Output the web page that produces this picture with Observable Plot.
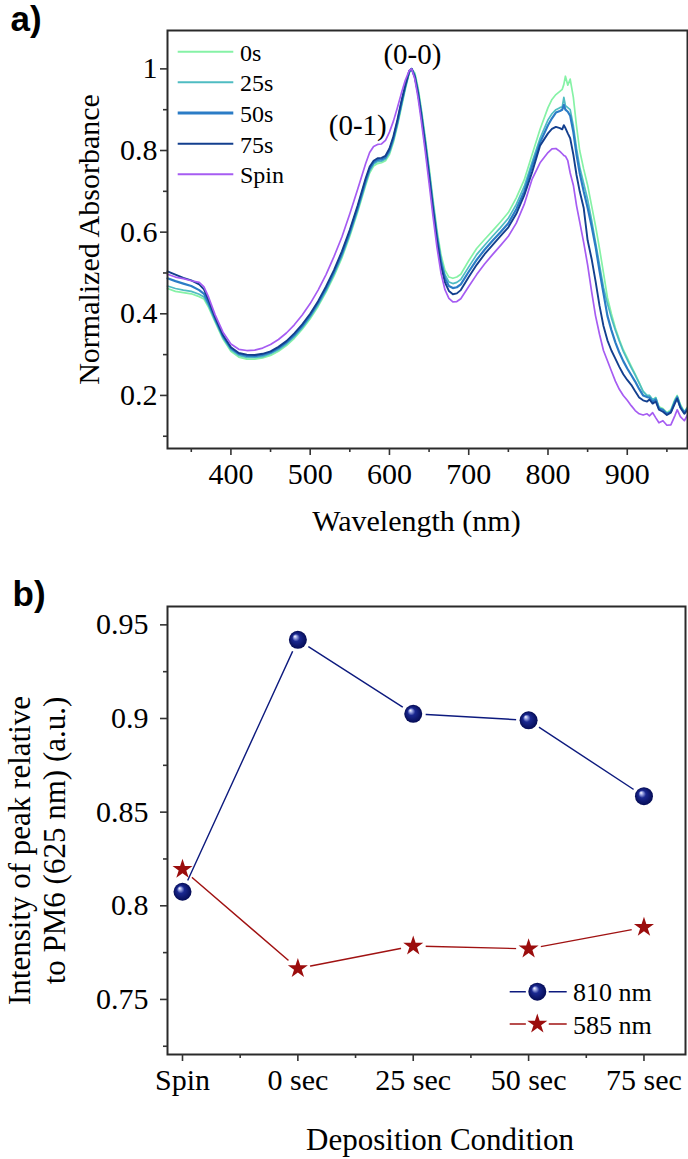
<!DOCTYPE html>
<html><head><meta charset="utf-8">
<script src="https://cdn.jsdelivr.net/npm/d3@7"></script>
<script src="https://cdn.jsdelivr.net/npm/@observablehq/plot@0.6"></script>
<style>
body{margin:0;background:#fff;}
#fig{position:relative;width:688px;height:1159px;background:#fff;overflow:hidden}
#fig svg{display:block}
#legend{position:absolute;left:0;top:0;pointer-events:none;font-family:'Liberation Serif','Times New Roman',serif}
</style></head><body>
<svg width="0" height="0" style="position:absolute"><defs>
<radialGradient id="sphereGrad" cx="0.5" cy="0.5" r="0.5" fx="0.33" fy="0.3">
<stop offset="0" stop-color="#ffffff"/>
<stop offset="0.16" stop-color="#a4aee8"/>
<stop offset="0.42" stop-color="#1a2890"/>
<stop offset="1" stop-color="#050c55"/>
</radialGradient></defs></svg>
<div id="fig"><div id="a"></div><div id="b"></div><svg id="legend" width="688" height="1159"></svg></div>
<script>
// ---------- data: panel a) ----------
const wavelength = [320,330,340,350,360,366,372,380,390,400,
 410,420,430,440,450,460,470,480,490,500,
 510,520,530,540,550,560,570,575,580,585,
 590,595,600,605,610,615,620,625,628,632,
 636,640,645,650,655,660,665,670,675,680,
 685,690,700,710,720,730,740,750,760,770,
 780,790,800,805,810,815,818,820,822,825,
 828,832,836,840,845,850,855,860,865,870,
 875,880,885,890,895,900,905,910,915,920,
 925,928,932,936,940,945,950,955,960,963,
 967,972,976];
const abs0s = [.462,.455,.452,.449,.442,.436,.415,.38,.338,.308,
 .294,.289,.289,.292,.298,.308,.322,.340,.362,.388,
 .418,.453,.492,.537,.59,.65,.715,.745,.762,.768,
 .77,.775,.79,.82,.86,.905,.95,.99,1.0,.99,
 .955,.905,.835,.76,.68,.605,.545,.507,.49,.487,
 .49,.497,.53,.56,.582,.603,.625,.648,.684,.728,
 .79,.852,.905,.925,.937,.945,.95,.962,.982,.96,
 .975,.93,.86,.80,.755,.715,.665,.615,.56,.50,
 .44,.40,.365,.337,.312,.292,.272,.252,.232,.21,
 .198,.2,.188,.195,.172,.168,.158,.165,.19,.2,
 .178,.16,.172];
const abs25s = [.468,.462,.458,.455,.448,.441,.42,.384,.342,.312,
 .298,.293,.293,.295,.302,.312,.326,.344,.366,.392,
 .422,.457,.497,.542,.595,.655,.72,.75,.767,.773,
 .774,.779,.795,.825,.865,.91,.955,.992,1.0,.985,
 .948,.897,.826,.75,.67,.595,.535,.496,.478,.474,
 .477,.484,.515,.545,.568,.59,.611,.634,.668,.712,
 .772,.83,.875,.89,.9,.905,.907,.93,.91,.905,
 .9,.86,.805,.76,.72,.68,.63,.575,.52,.465,
 .425,.39,.36,.333,.308,.288,.268,.25,.23,.21,
 .2,.2,.19,.194,.17,.165,.155,.16,.185,.198,
 .175,.158,.17];
const abs50s = [.487,.48,.474,.468,.458,.449,.425,.388,.345,.316,
 .302,.297,.296,.299,.305,.316,.330,.348,.370,.396,
 .427,.462,.502,.547,.60,.66,.726,.755,.771,.777,
 .778,.783,.80,.83,.87,.915,.958,.994,1.0,.982,
 .943,.892,.82,.743,.662,.587,.527,.487,.468,.463,
 .465,.472,.503,.532,.557,.579,.60,.622,.656,.70,
 .762,.82,.862,.879,.893,.897,.9,.912,.9,.895,
 .885,.845,.79,.745,.70,.66,.615,.565,.505,.45,
 .395,.36,.33,.305,.284,.266,.25,.234,.216,.2,
 .196,.195,.185,.19,.168,.165,.155,.16,.185,.195,
 .172,.158,.168];
const abs75s = [.504,.496,.488,.482,.472,.46,.432,.392,.348,.318,
 .304,.300,.299,.302,.308,.319,.333,.352,.374,.40,
 .431,.467,.507,.553,.606,.666,.732,.76,.775,.781,
 .782,.787,.805,.835,.875,.92,.96,.995,1.0,.98,
 .94,.888,.815,.737,.655,.58,.518,.477,.456,.448,
 .45,.458,.49,.52,.546,.568,.59,.612,.645,.69,
 .747,.812,.842,.853,.858,.855,.852,.862,.855,.842,
 .83,.79,.74,.70,.66,.58,.535,.48,.42,.37,
 .335,.31,.29,.27,.252,.238,.226,.21,.195,.188,
 .185,.19,.18,.185,.165,.16,.152,.158,.18,.192,
 .17,.155,.165];
const absSpin = [.497,.49,.486,.481,.477,.466,.44,.398,.355,.326,
 .313,.310,.311,.316,.325,.337,.353,.373,.397,.425,
 .458,.496,.54,.588,.645,.706,.768,.795,.81,.815,
 .816,.825,.845,.872,.905,.94,.972,.996,1.0,.975,
 .93,.875,.80,.72,.638,.562,.50,.459,.438,.429,
 .43,.437,.467,.496,.522,.545,.567,.59,.622,.668,
 .73,.77,.795,.804,.805,.798,.792,.788,.786,.775,
 .745,.715,.665,.625,.575,.52,.455,.395,.35,.31,
 .285,.26,.235,.215,.2,.188,.175,.163,.155,.152,
 .155,.15,.158,.145,.133,.138,.127,.128,.15,.165,
 .148,.138,.152];
const seriesNames = ["0s","25s","50s","75s","Spin"];
const xTicksA = [400,500,600,700,800,900];
const xMinorA = [350,450,550,650,750,850,950];
const yTicksA = [0.2,0.4,0.6,0.8,1];
const yTickLabelsA = ["0.2","0.4","0.6","0.8","1"];
const yMinorA = [0.1,0.3,0.5,0.7,0.9];
const peakLabels = ["(0-1)","(0-0)"];
const peakLabelWl = [560,629];
const peakLabelAbs = [0.838,1.013];

// ---------- data: panel b) ----------
const conditions = ["Spin","0 sec","25 sec","50 sec","75 sec"];
const peak810 = [0.8075,0.942,0.9025,0.899,0.8585];
const peak585 = [0.8195,0.7665,0.7785,0.777,0.7885];
const yTicksB = [0.75,0.8,0.85,0.9,0.95];
const yTickLabelsB = ["0.75","0.8","0.85","0.9","0.95"];
const yMinorB = [0.725,0.775,0.825,0.875,0.925];
const legendB = ["810 nm","585 nm"];

// ---------- styles ----------
const seriesValues = [abs0s,abs25s,abs50s,abs75s,absSpin];
const seriesColors = ["#86f2a6","#4fbcc2","#2b7cc6","#133f8e","#a65cf2"];
const seriesWidths = [1.7,1.7,2.2,1.9,1.7];
const serif = "'Liberation Serif','Times New Roman',serif";
const sans = "'Liberation Sans',Arial,sans-serif";
const navy = "#0d1a7e", darkRed = "#a01212", starFill = "#9b0d0d";
const axisColor = "#333";

// ---------- panel a ----------
const specRows = seriesNames.flatMap((s,i)=>wavelength.map((w,j)=>({series:s, wl:w, a:seriesValues[i][j]})));
const chartA = Plot.plot({
  width:688, height:555, marginLeft:167, marginRight:1, marginTop:30, marginBottom:107,
  style:{fontFamily:serif, fontSize:"30px", color:"#000", background:"transparent", overflow:"visible"},
  x:{domain:[320,976]},
  y:{domain:[0.07,1.094]},
  marks:[
    ...seriesNames.map((s,i)=>Plot.line(specRows.filter(d=>d.series===s),{x:"wl", y:"a", stroke:seriesColors[i], strokeWidth:seriesWidths[i]})),
    Plot.frame({stroke:"#2a2a2a", strokeWidth:2}),
    Plot.axisX({anchor:"bottom", ticks:xTicksA, tickSize:7, tickPadding:7, tickFormat:d=>String(d), label:null, stroke:axisColor, strokeWidth:1.6}),
    Plot.axisX({anchor:"bottom", ticks:xMinorA, tickSize:4, tickFormat:()=>"", label:null, stroke:axisColor, strokeWidth:1.6}),
    Plot.axisY({anchor:"left", ticks:yTicksA, tickSize:7, tickPadding:3, tickFormat:d=>yTickLabelsA[yTicksA.indexOf(d)], label:null, stroke:axisColor, strokeWidth:1.6}),
    Plot.axisY({anchor:"left", ticks:yMinorA, tickSize:4, tickFormat:()=>"", label:null, stroke:axisColor, strokeWidth:1.6}),
    Plot.text(peakLabels,{x:(d,i)=>peakLabelWl[i], y:(d,i)=>peakLabelAbs[i], text:d=>d, lineAnchor:"bottom", fontSize:29}),
    Plot.text(["Wavelength (nm)"],{frameAnchor:"bottom", dx:-11, dy:82, textAnchor:"middle", lineAnchor:"bottom", fontSize:30}),
    Plot.text(["Normalized Absorbance"],{frameAnchor:"left", dx:-69, rotate:-90, textAnchor:"middle", lineAnchor:"bottom", fontSize:30}),
    Plot.text(["a)"],{frameAnchor:"top-left", dx:-157, dy:0, textAnchor:"start", lineAnchor:"bottom", fontFamily:sans, fontWeight:"bold", fontSize:35})
  ]
});
document.getElementById("a").appendChild(chartA);

// ---------- panel b ----------
const rows810 = conditions.map((c,i)=>({i, v:peak810[i]}));
const rows585 = conditions.map((c,i)=>({i, v:peak585[i]}));
const chartB = Plot.plot({
  width:688, height:604, marginLeft:167, marginRight:3, marginTop:51, marginBottom:105,
  style:{fontFamily:serif, fontSize:"30px", color:"#000", background:"transparent", overflow:"visible"},
  x:{domain:[-0.13,4.36]},
  y:{domain:[0.7206,0.9598]},
  marks:[
    Plot.line(rows585,{x:"i", y:"v", stroke:darkRed, strokeWidth:1.4}),
    Plot.dot(rows585,{x:"i", y:"v", r:12.5, fill:"white"}),
    Plot.line(rows810,{x:"i", y:"v", stroke:navy, strokeWidth:1.4}),
    Plot.dot(rows810,{x:"i", y:"v", r:12.5, fill:"white"}),
    Plot.dot(rows810,{x:"i", y:"v", r:9, fill:"url(#sphereGrad)"}),
    Plot.dot(rows585,{x:"i", y:"v", r:6.3, symbol:"star", fill:starFill}),
    Plot.frame({stroke:"#2a2a2a", strokeWidth:2}),
    Plot.axisX({anchor:"bottom", ticks:[0,1,2,3,4], tickSize:7, tickPadding:7, tickFormat:d=>conditions[d], label:null, stroke:axisColor, strokeWidth:1.6}),
    Plot.axisX({anchor:"bottom", ticks:[0.5,1.5,2.5,3.5], tickSize:4, tickFormat:()=>"", label:null, stroke:axisColor, strokeWidth:1.6}),
    Plot.axisY({anchor:"left", ticks:yTicksB, tickSize:7, tickPadding:12, tickFormat:d=>yTickLabelsB[yTicksB.indexOf(d)], label:null, stroke:axisColor, strokeWidth:1.6}),
    Plot.axisY({anchor:"left", ticks:yMinorB, tickSize:4, tickFormat:()=>"", label:null, stroke:axisColor, strokeWidth:1.6}),
    Plot.text(["Deposition Condition"],{frameAnchor:"bottom", dx:13.5, dy:95, textAnchor:"middle", lineAnchor:"bottom", fontSize:31}),
    Plot.text(["Intensity of peak relative"],{frameAnchor:"left", dx:-138, dy:20, rotate:-90, textAnchor:"middle", lineAnchor:"bottom", fontSize:31}),
    Plot.text(["to PM6 (625 nm) (a.u.)"],{frameAnchor:"left", dx:-103, dy:10, rotate:-90, textAnchor:"middle", lineAnchor:"bottom", fontSize:31}),
    Plot.text(["b)"],{frameAnchor:"top-left", dx:-155, dy:-1, textAnchor:"start", lineAnchor:"bottom", fontFamily:sans, fontWeight:"bold", fontSize:35})
  ]
});
document.getElementById("b").appendChild(chartB);

// ---------- legends (overlay) ----------
const leg = d3.select("#legend");
seriesNames.forEach((s,i)=>{
  const y = 51.7 + 30.65*i;
  leg.append("line").attr("x1",177.7).attr("x2",233.3).attr("y1",y).attr("y2",y)
    .attr("stroke",seriesColors[i]).attr("stroke-width", i===2 ? 3 : 2);
  leg.append("text").attr("x",240).attr("y",y+9).text(s)
    .style("font-family",serif).style("font-size","24px").attr("fill","#000");
});
legendB.forEach((s,i)=>{
  const y = 991.7 + 32.3*i;
  const c = i===0 ? navy : darkRed;
  leg.append("line").attr("x1",509.7).attr("x2",566.7).attr("y1",y).attr("y2",y)
    .attr("stroke",c).attr("stroke-width",1.4);
  leg.append("circle").attr("cx",537.3).attr("cy",y).attr("r",11.5).attr("fill","white");
  if (i===0) {
    leg.append("circle").attr("cx",537.3).attr("cy",y).attr("r",9).attr("fill","url(#sphereGrad)");
  } else {
    leg.append("path").attr("transform",`translate(537.3,${y})`)
      .attr("d", d3.symbol(d3.symbolStar, Math.PI*6.3*6.3)()).attr("fill",starFill);
  }
  leg.append("text").attr("x",573).attr("y",y+9.5).text(s)
    .style("font-family",serif).style("font-size","26px").attr("fill","#000");
});
</script>
</body></html>
